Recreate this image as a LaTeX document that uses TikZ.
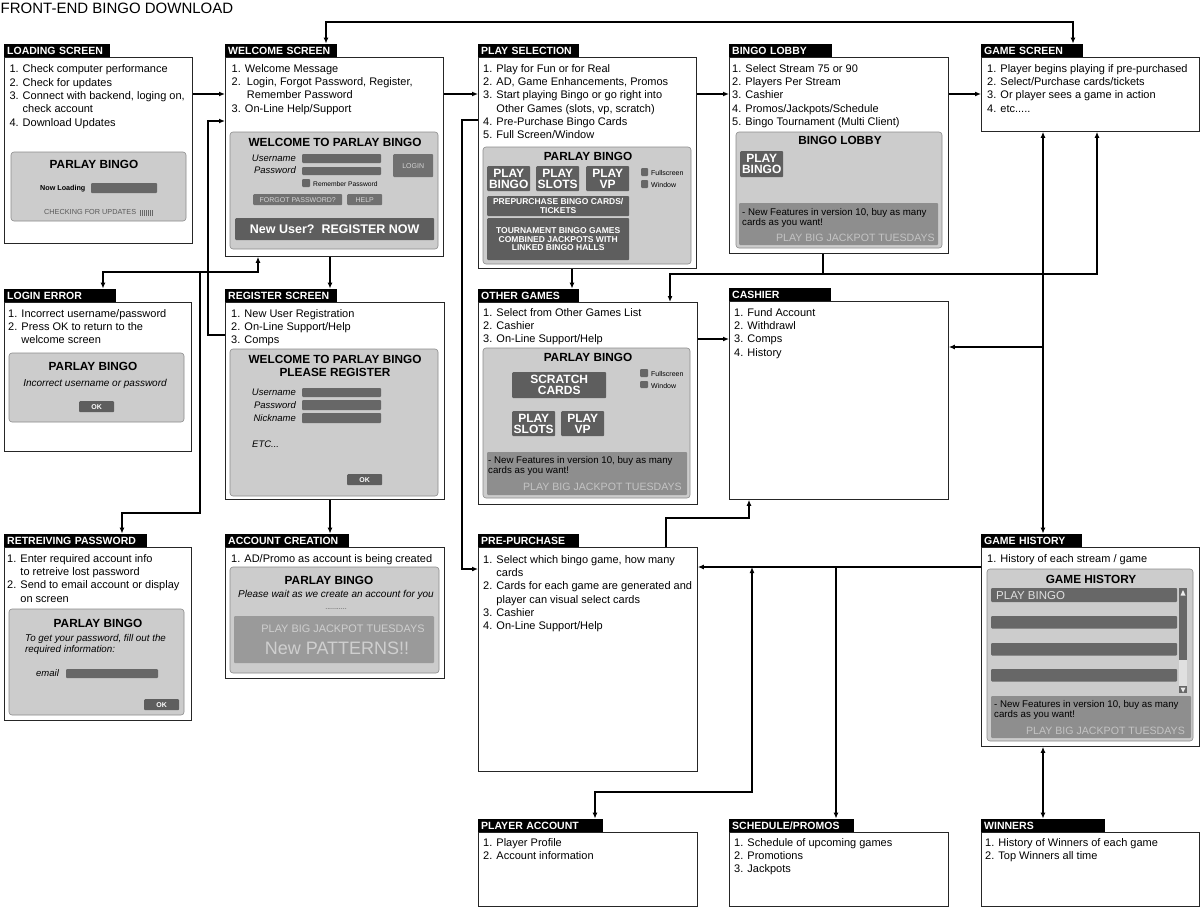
\documentclass[tikz,border=0pt]{standalone}
\usepackage{fontspec}
\setmainfont{Liberation Sans}
\usetikzlibrary{positioning,calc,arrows.meta}
\usepackage{xcolor}

\definecolor{panelgray}{HTML}{CCCCCC}
\definecolor{paneledge}{HTML}{8C8C8C}
\definecolor{fieldgray}{HTML}{676767}
\definecolor{btngray}{HTML}{5E5E5E}
\definecolor{btnsoft}{HTML}{707070}
\definecolor{softtext}{HTML}{D4D4D4}
\definecolor{newsgray}{HTML}{8E8E8E}
\definecolor{promotext}{HTML}{C4C4C4}
\definecolor{adgray}{HTML}{9A9A9A}
\definecolor{adtext}{HTML}{CFCFCF}

\begin{document}
\begin{tikzpicture}[x=1pt,y=-1pt,>={Latex[length=6pt,width=5pt]},
  scrbox/.style={draw=black!85,line width=0.8pt,fill=white,inner sep=0pt,anchor=north west},
  hdr/.style={fill=black,text=white,font=\bfseries\fontsize{10.5}{11}\selectfont,inner xsep=3pt,inner ysep=0pt,minimum height=13pt,text height=7.6pt,text depth=0pt,anchor=south west,align=left},
  items/.style={font=\fontsize{11}{13.33}\selectfont,align=left,inner sep=0pt,anchor=north west},
  panel/.style={draw=paneledge,fill=panelgray,rounded corners=3pt,line width=0.6pt},
  field/.style={fill=fieldgray,rounded corners=1pt},
  btn/.style={fill=btngray,text=white,font=\bfseries\fontsize{12}{11}\selectfont,align=center,inner sep=0pt,anchor=north west,rounded corners=1pt},
  softbtn/.style={fill=btnsoft,text=softtext,font=\fontsize{7}{8}\selectfont,inner sep=0pt,anchor=north west,rounded corners=1pt},
  okbtn/.style={fill=btngray,text=white,font=\bfseries\fontsize{7}{8}\selectfont,minimum width=35,minimum height=11,inner sep=0pt,anchor=north west,rounded corners=1pt},
  ptitle/.style={font=\bfseries\fontsize{11.8}{12}\selectfont,anchor=base,inner sep=0pt},
  lbl/.style={font=\itshape\fontsize{9.5}{10}\selectfont,anchor=base east,inner sep=0pt},
  small/.style={font=\fontsize{7}{8}\selectfont,inner sep=0pt,anchor=base west},
  news/.style={fill=newsgray,rounded corners=1pt},
  newstxt/.style={font=\fontsize{9.7}{10}\selectfont,align=left,inner sep=0pt,anchor=north west},
  promo/.style={text=promotext,font=\fontsize{10.6}{11}\selectfont,anchor=base east,inner sep=0pt},
  conn/.style={line width=1.8pt}]
	\useasboundingbox (0,0) rectangle (1200,907);
	\fill[white] (0,0) rectangle (1200,907);
	\node[font=\fontsize{15}{15}\selectfont,anchor=base west,inner sep=0pt] (title) at (0.5,13.5) {FRONT-END BINGO DOWNLOAD};

	% screens
	\node[scrbox,minimum width=188,minimum height=186] (load) at (4,57) {};
	\node[hdr,text width=100] (load-h) at (load.north west) {LOADING SCREEN};
	\node[scrbox,minimum width=218,minimum height=199] (welcome) at (225,57) {};
	\node[hdr,text width=106] (welcome-h) at (welcome.north west) {WELCOME SCREEN};
	\node[scrbox,minimum width=218,minimum height=211] (play) at (478,57) {};
	\node[hdr,text width=95] (play-h) at (play.north west) {PLAY SELECTION};
	\node[scrbox,minimum width=219,minimum height=196] (lobby) at (729,57) {};
	\node[hdr,text width=97] (lobby-h) at (lobby.north west) {BINGO LOBBY};
	\node[scrbox,minimum width=218,minimum height=74] (game) at (981,57) {};
	\node[hdr,text width=96] (game-h) at (game.north west) {GAME SCREEN};
	\node[scrbox,minimum width=187,minimum height=149] (loginerr) at (4,302) {};
	\node[hdr,text width=106] (loginerr-h) at (loginerr.north west) {LOGIN ERROR};
	\node[scrbox,minimum width=219,minimum height=197] (register) at (225,302) {};
	\node[hdr,text width=106] (register-h) at (register.north west) {REGISTER SCREEN};
	\node[scrbox,minimum width=219,minimum height=202] (other) at (478,302) {};
	\node[hdr,text width=95] (other-h) at (other.north west) {OTHER GAMES};
	\node[scrbox,minimum width=219,minimum height=198] (cashier) at (729,301) {};
	\node[hdr,text width=96] (cashier-h) at (cashier.north west) {CASHIER};
	\node[scrbox,minimum width=187,minimum height=173] (retrieve) at (4,547) {};
	\node[hdr,text width=137] (retrieve-h) at (retrieve.north west) {RETREIVING PASSWORD};
	\node[scrbox,minimum width=219,minimum height=131] (account) at (225,547) {};
	\node[hdr,text width=118] (account-h) at (account.north west) {ACCOUNT CREATION};
	\node[scrbox,minimum width=219,minimum height=224] (prepurch) at (478,547) {};
	\node[hdr,text width=95] (prepurch-h) at (prepurch.north west) {PRE-PURCHASE};
	\node[scrbox,minimum width=218,minimum height=199] (history) at (981,547) {};
	\node[hdr,text width=95] (history-h) at (history.north west) {GAME HISTORY};
	\node[scrbox,minimum width=219,minimum height=74] (player) at (478,832) {};
	\node[hdr,text width=119] (player-h) at (player.north west) {PLAYER ACCOUNT};
	\node[scrbox,minimum width=219,minimum height=74] (schedule) at (729,832) {};
	\node[hdr,text width=119] (schedule-h) at (schedule.north west) {SCHEDULE/PROMOS};
	\node[scrbox,minimum width=218,minimum height=74] (winners) at (981,832) {};
	\node[hdr,text width=118] (winners-h) at (winners.north west) {WINNERS};

	% lists
	\node[items] (load-t) at (9.3,64.7) {1. Check computer performance\\2. Check for updates\\3. Connect with backend, loging on,\\\hphantom{3. }check account\\4. Download Updates};
	\node[items] (welcome-t) at (231.5,64) {1. Welcome Message\\2.\ \ Login, Forgot Password, Register,\\\hphantom{2.\ \ }Remember Password\\3. On-Line Help/Support};
	\node[items] (play-t) at (483,64) {1. Play for Fun or for Real\\2. AD, Game Enhancements, Promos\\3. Start playing Bingo or go right into\\\hphantom{3. }Other Games (slots, vp, scratch)\\4. Pre-Purchase Bingo Cards\\5. Full Screen/Window};
	\node[items] (lobby-t) at (732,64) {1. Select Stream 75 or 90\\2. Players Per Stream\\3. Cashier\\4. Promos/Jackpots/Schedule\\5. Bingo Tournament (Multi Client)};
	\node[items] (game-t) at (987,64) {1. Player begins playing if pre-purchased\\2. Select/Purchase cards/tickets\\3. Or player sees a game in action\\4. etc.....};
	\node[items] (loginerr-t) at (8,309) {1. Incorrect username/password\\2. Press OK to return to the\\\hphantom{2. }welcome screen};
	\node[items] (register-t) at (231,309) {1. New User Registration\\2. On-Line Support/Help\\3. Comps};
	\node[items] (other-t) at (483,308) {1. Select from Other Games List\\2. Cashier\\3. On-Line Support/Help};
	\node[items] (cashier-t) at (734,308) {1. Fund Account\\2. Withdrawl\\3. Comps\\4. History};
	\node[items] (retrieve-t) at (7,554) {1. Enter required account info\\\hphantom{1. }to retreive lost password\\2. Send to email account or display\\\hphantom{2. }on screen};
	\node[items] (account-t) at (231,554) {1. AD/Promo as account is being created};
	\node[items] (prepurch-t) at (483,555) {1. Select which bingo game, how many\\\hphantom{1. }cards\\2. Cards for each game are generated and\\\hphantom{2. }player can visual select cards\\3. Cashier\\4. On-Line Support/Help};
	\node[items] (history-t) at (987,554) {1. History of each stream / game};
	\node[items] (player-t) at (483,838) {1. Player Profile\\2. Account information};
	\node[items] (schedule-t) at (734,838) {1. Schedule of upcoming games\\2. Promotions\\3. Jackpots};
	\node[items] (winners-t) at (985,838) {1. History of Winners of each game\\2. Top Winners all time};

	% loading mockup
	\draw[panel] (11,152) rectangle (186,221);
	\node[ptitle] (load-pt) at (94,168) {PARLAY BINGO};
	\node[small,font=\bfseries\fontsize{7.2}{8}\selectfont] (load-nl) at (40,190) {Now Loading};
	\fill[field] (91,183) rectangle (157,193);
	\node[small,text=black!65,font=\fontsize{7.3}{8}\selectfont] (load-ck) at (44,214) {CHECKING FOR UPDATES};
	\foreach \i in {0,...,6}
		\fill[fieldgray] (140+2*\i,210) rectangle (141.3+2*\i,215.5);

	% welcome mockup
	\draw[panel] (230,132) rectangle (438,249);
	\node[ptitle] (wel-pt) at (335,146) {WELCOME TO PARLAY BINGO};
	\node[lbl] (wel-u) at (296,161.3) {Username};
	\node[lbl] (wel-p) at (296,173.5) {Password};
	\fill[field] (302,154) rectangle (381,163);
	\fill[field] (302,167) rectangle (381,175);
	\fill[field] (302,179) rectangle (310,187);
	\node[small,font=\fontsize{6.7}{8}\selectfont] (wel-rem) at (313,186) {Remember Password};
	\node[softbtn,minimum width=40,minimum height=23] (wel-login) at (393,154) {LOGIN};
	\node[softbtn,minimum width=89,minimum height=11] (wel-fp) at (253,194) {FORGOT PASSWORD?};
	\node[softbtn,minimum width=35,minimum height=11] (wel-help) at (347,194) {HELP};
	\node[btn,font=\bfseries\fontsize{12.5}{13}\selectfont,minimum width=199,minimum height=22] (wel-reg) at (235,218) {New User?\ \ REGISTER NOW};

	% play selection mockup
	\draw[panel] (483,147) rectangle (691,264);
	\node[ptitle] (play-pt) at (588,160) {PARLAY BINGO};
	\node[btn,minimum width=43,minimum height=25] (play-b1) at (487,166) {PLAY\\BINGO};
	\node[btn,minimum width=43,minimum height=25] (play-b2) at (536,166) {PLAY\\SLOTS};
	\node[btn,minimum width=43,minimum height=25] (play-b3) at (586,166) {PLAY\\VP};
	\fill[field] (641,168) rectangle (648,176);
	\fill[field] (641,180) rectangle (648,188);
	\node[small] (play-fs) at (651,175.5) {Fullscreen};
	\node[small] (play-win) at (651,187.5) {Window};
	\node[btn,font=\bfseries\fontsize{8.5}{8.8}\selectfont,minimum width=142,minimum height=20] (play-pre) at (487,196) {PREPURCHASE BINGO CARDS/\\TICKETS};
	\node[btn,font=\bfseries\fontsize{8.5}{8.8}\selectfont,minimum width=142,minimum height=42] (play-tour) at (487,218) {TOURNAMENT BINGO GAMES\\COMBINED JACKPOTS WITH\\LINKED BINGO HALLS};

	% bingo lobby mockup
	\draw[panel] (736,132) rectangle (942,248);
	\node[ptitle] (lob-pt) at (840,144) {BINGO LOBBY};
	\node[btn,minimum width=43,minimum height=26] (lob-b) at (740,151) {PLAY\\BINGO};
	\fill[news] (739,203) rectangle (938,245);
	\node[newstxt] (lob-n) at (742,208.5) {- New Features in version 10, buy as many\\cards as you want!};
	\node[promo] (lob-pr) at (935,241.5) {PLAY BIG JACKPOT TUESDAYS};

	% login error mockup
	\draw[panel] (9,353) rectangle (184,422);
	\node[ptitle] (le-pt) at (93,370.5) {PARLAY BINGO};
	\node[font=\itshape\fontsize{10}{11}\selectfont,anchor=base,inner sep=0pt] (le-msg) at (95,386) {Incorrect username or password};
	\node[okbtn] (le-ok) at (79,401) {OK};

	% register mockup
	\draw[panel] (230,349) rectangle (438,496);
	\node[ptitle] (reg-pt1) at (335,363) {WELCOME TO PARLAY BINGO};
	\node[ptitle] (reg-pt2) at (335,376) {PLEASE REGISTER};
	\node[lbl] (reg-u) at (296,395.5) {Username};
	\node[lbl] (reg-p) at (296,408) {Password};
	\node[lbl] (reg-n) at (296,421.5) {Nickname};
	\fill[field] (302,388) rectangle (381,397);
	\fill[field] (302,400) rectangle (381,410);
	\fill[field] (302,413) rectangle (381,423);
	\node[lbl,anchor=base west] (reg-etc) at (252,447) {ETC...};
	\node[okbtn] (reg-ok) at (347,474) {OK};

	% other games mockup
	\draw[panel] (483,348) rectangle (690,498);
	\node[ptitle] (oth-pt) at (588,361) {PARLAY BINGO};
	\node[btn,minimum width=94,minimum height=26] (oth-sc) at (512,372) {SCRATCH\\CARDS};
	\fill[field] (640,369) rectangle (648,377);
	\fill[field] (640,381) rectangle (648,388);
	\node[small] (oth-fs) at (651,376.5) {Fullscreen};
	\node[small] (oth-win) at (651,388) {Window};
	\node[btn,minimum width=43,minimum height=25] (oth-sl) at (512,411) {PLAY\\SLOTS};
	\node[btn,minimum width=43,minimum height=25] (oth-vp) at (561,411) {PLAY\\VP};
	\fill[news] (487,452) rectangle (687,495);
	\node[newstxt] (oth-n) at (488,456.5) {- New Features in version 10, buy as many\\cards as you want!};
	\node[promo] (oth-pr) at (682,490.5) {PLAY BIG JACKPOT TUESDAYS};

	% retrieving password mockup
	\draw[panel] (9,609) rectangle (184,715);
	\node[ptitle] (ret-pt) at (98,627) {PARLAY BINGO};
	\node[font=\itshape\fontsize{9.8}{10.8}\selectfont,align=left,inner sep=0pt,anchor=north west] (ret-msg) at (25,634) {To get your password, fill out the\\required information:};
	\node[lbl,anchor=base west] (ret-e) at (36,676) {email};
	\fill[field] (66,669) rectangle (158,678);
	\node[okbtn] (ret-ok) at (144,699) {OK};

	% account creation mockup
	\draw[panel] (230,567) rectangle (439,673);
	\node[ptitle] (acc-pt) at (329,584) {PARLAY BINGO};
	\node[font=\itshape\fontsize{10}{11}\selectfont,anchor=base,inner sep=0pt] (acc-msg) at (336,597) {Please wait as we create an account for you};
	\node[font=\fontsize{7}{8}\selectfont,text=black!70,anchor=base,inner sep=0pt] (acc-dots) at (336,609) {...........};
	\fill[adgray,rounded corners=1pt] (234,616) rectangle (434,663);
	\node[font=\fontsize{10.9}{11}\selectfont,text=adtext,anchor=base,inner sep=0pt] (acc-ad1) at (343,632) {PLAY BIG JACKPOT TUESDAYS};
	\node[font=\fontsize{18}{18}\selectfont,text=adtext,anchor=base,inner sep=0pt] (acc-ad2) at (337,654) {New PATTERNS!!};

	% game history mockup
	\draw[panel] (987,569) rectangle (1193,741);
	\node[ptitle] (his-pt) at (1091,583) {GAME HISTORY};
	\fill[field] (991,588) rectangle (1177,602);
	\node[font=\fontsize{11.5}{12}\selectfont,text=black!12,anchor=base west,inner sep=0pt] (his-r1) at (996,599.5) {PLAY BINGO};
	\foreach \y in {616,643,669}
		\fill[field] (991,\y) rectangle (1177,\y+12.5);
	\fill[black!12] (1179,588) rectangle (1187,693);
	\fill[fieldgray] (1179,588) rectangle (1187,660);
	\fill[fieldgray] (1179,686) rectangle (1187,693);
	\fill[black!8] (1180.5,595.5) -- (1183,590) -- (1185.5,595.5) -- cycle;
	\fill[black!8] (1180.5,687.5) -- (1183,692.5) -- (1185.5,687.5) -- cycle;
	\fill[news] (991,696) rectangle (1191,738);
	\node[newstxt] (his-n) at (994,700) {- New Features in version 10, buy as many\\cards as you want!};
	\node[promo] (his-pr) at (1185,734) {PLAY BIG JACKPOT TUESDAYS};

	% connectors
	\coordinate (jW) at (200,272);
	\coordinate (busC) at (1043,347);
	\coordinate (busP) at (752,567);
	\coordinate (busS) at (836,567);
	\draw[conn,->] (load.east |- 0,94) -- (welcome.west |- 0,94);
	\draw[conn,->] (welcome.east |- 0,94) -- (play.west |- 0,94);
	\draw[conn,->] (play.east |- 0,94) -- (lobby.west |- 0,94);
	\draw[conn,->] (lobby.east |- 0,94) -- (game.west |- 0,94);
	\draw[conn,<->] (welcome-h.north -| 326,0) |- (700,22) -| (game-h.north -| 1073,0);
	\draw[conn,->] (register.west |- 0,335) -- (208,335) |- (welcome.west |- 0,121);
	\draw[conn,<->] (welcome.south -| 258,0) |- (jW) -| (loginerr-h.north -| 103,0);
	\draw[conn,->] (jW) |- (160,513) -| (retrieve-h.north -| 122,0);
	\draw[conn,->] (welcome.south -| 330,0) -- (register-h.north -| 330,0);
	\draw[conn,->] (register.south -| 330,0) -- (account-h.north -| 330,0);
	\draw[conn,->] (play.west |- 0,120) -- (462,120) |- (prepurch.west |- 0,569);
	\draw[conn,->] (play.south -| 572,0) -- (other-h.north -| 572,0);
	\draw[conn,<->] (game.south -| 1097,0) |- (800,274) -| (other.north -| 670,0);
	\draw[conn] (lobby.south -| 823,0) -- (823,274);
	\draw[conn,<->] (game.south -| 1043,0) -- (history-h.north -| 1043,0);
	\draw[conn,<->] (history.south -| 1043,0) -- (winners-h.north -| 1043,0);
	\draw[conn,->] (busC) -- (cashier.east |- busC);
	\draw[conn,->] (other.east |- 0,339) -- (cashier.west |- 0,339);
	\draw[conn,->] (prepurch.north -| 666,0) |- (700,518) -| (cashier.south -| 749,0);
	\draw[conn,->] (history.west |- 0,567) -- (prepurch.east |- 0,567);
	\draw[conn,<->] (busP) |- (680,792) -| (player-h.north -| 595,0);
	\draw[conn,->] (busS) -- (schedule-h.north -| 836,0);

\end{tikzpicture}
\end{document}
